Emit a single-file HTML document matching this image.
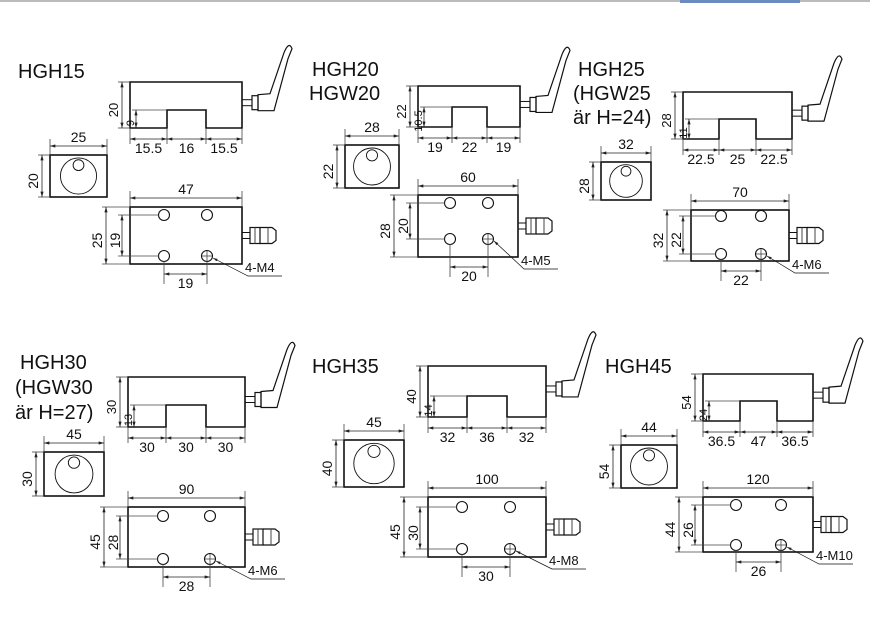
<!DOCTYPE html>
<html><head><meta charset="utf-8"><style>
body{margin:0;background:#fff;}
svg{display:block;}
text{font-family:"Liberation Sans",sans-serif;fill:#111;}
</style></head><body>
<svg id="s" width="870" height="632" viewBox="0 0 870 632" xmlns="http://www.w3.org/2000/svg">
<defs>
<marker id="a" viewBox="0 0 10 6" refX="10" refY="3" markerWidth="7" markerHeight="4" orient="auto-start-reverse"><path d="M0,0L10,3L0,6z" fill="#222"/></marker>
</defs>
<rect x="0" y="0" width="870" height="2" fill="#bbb"/>
<rect x="680" y="0" width="120" height="3" fill="#6a8ac0"/>
<g id="g" stroke="#111" fill="none"></g>
</svg>
<script>
var g=document.getElementById('g'),NS="http://www.w3.org/2000/svg";
function el(n,a,t){var e=document.createElementNS(NS,n);for(var k in a)e.setAttribute(k,a[k]);if(t!=null)e.textContent=t;g.appendChild(e);return e;}
function L(x1,y1,x2,y2,w,c){el('line',{x1:x1,y1:y1,x2:x2,y2:y2,'stroke-width':w||0.8,stroke:c||'#444'});}
function A(x1,y1,x2,y2){el('line',{x1:x1,y1:y1,x2:x2,y2:y2,'stroke-width':0.8,stroke:'#222','marker-start':'url(#a)','marker-end':'url(#a)'});}
function T(x,y,s,fs,rot,anchor){var a={x:x,y:y,'font-size':fs||13,stroke:'none','text-anchor':anchor||'middle'};if(rot)a.transform='rotate(-90 '+x+' '+y+')';el('text',a,s);}
function R(x1,y1,x2,y2){el('rect',{x:x1,y:y1,width:x2-x1,height:y2-y1,'stroke-width':1.6,stroke:'#111',fill:'none'});}
function panel(p){
 p.t.forEach(function(t){T(t[0],t[1],t[2],20,0,'start');});
 var F=p.F,x1=F[0],y1=F[1],x2=F[2],y2=F[3],sx1=p.sl[0],sx2=p.sl[1],sy=p.sl[2];
 el('path',{d:'M'+x1+','+y2+'V'+y1+'H'+x2+'V'+y2+'H'+sx2+'V'+sy+'H'+sx1+'V'+y2+'Z','stroke-width':1.6,stroke:'#111'});
 L(x1-12,y1,x1,y1);L(x1-12,y2,x1,y2);A(x1-8,y1,x1-8,y2);T(x1-12,(y1+y2)/2+5,p.fh,13,1);
 L(x1+2,sy,sx1,sy);A(x1+6,sy,x1+6,y2);T(x1+4,(sy+y2)/2+4,p.sh,11,1);
 var dy=y2+11;[x1,sx1,sx2,x2].forEach(function(x){L(x,y2,x,y2+16);});
 A(x1,dy,sx1,dy);A(sx1,dy,sx2,dy);A(sx2,dy,x2,dy);
 T((x1+sx1)/2,dy+14,p.fd[0],14);T((sx1+sx2)/2,dy+14,p.fd[1],14);T((sx2+x2)/2,dy+14,p.fd[0],14);
 var hy=y1+(y2-y1)*0.45;
 el('rect',{x:x2,y:hy-3,width:10,height:6,'stroke-width':1});
 el('rect',{x:x2+10,y:hy-7,width:6,height:14,'stroke-width':1.2});
 el('path',{d:'M'+(x2+16)+','+(hy-8)+'L'+(x2+28)+','+(hy-9)+'L'+(x2+42)+','+(hy-50)+'Q'+(x2+47)+','+(hy-62)+' '+(x2+50)+','+(hy-54)+'L'+(x2+46)+','+(hy-44)+'L'+(x2+32)+','+(hy+8)+'L'+(x2+16)+','+(hy+8)+'Z','stroke-width':1.2});
 var S=p.S;R(S[0],S[1],S[2],S[3]);
 var cx=(S[0]+S[2])/2,cy=(S[1]+S[3])/2,r=(S[3]-S[1])*0.43;
 el('circle',{cx:cx,cy:cy,r:r,'stroke-width':0.9});
 el('circle',{cx:cx,cy:cy-r*0.6,r:r*0.3,'stroke-width':0.9});
 L(S[0],S[1]-16,S[0],S[1]);L(S[2],S[1]-16,S[2],S[1]);A(S[0],S[1]-9,S[2],S[1]-9);T(cx,S[1]-13,p.sw,14);
 L(S[0]-12,S[1],S[0],S[1]);L(S[0]-12,S[3],S[0],S[3]);A(S[0]-8,S[1],S[0]-8,S[3]);T(S[0]-12,cy+5,p.shh,14,1);
 var P=p.T,h=p.h;R(P[0],P[1],P[2],P[3]);
 [[h[0],h[2]],[h[1],h[2]],[h[0],h[3]],[h[1],h[3]]].forEach(function(c){el('circle',{cx:c[0],cy:c[1],r:5.5,'stroke-width':1.1});});
 L(h[1]-5,h[3],h[1]+5,h[3],0.8);L(h[1],h[3]-5,h[1],h[3]+5,0.8);
 L(P[0],P[1]-16,P[0],P[1]);L(P[2],P[1]-16,P[2],P[1]);A(P[0],P[1]-9,P[2],P[1]-9);T((P[0]+P[2])/2,P[1]-13,p.tw,14);
 L(P[0]-28,P[1],P[0],P[1]);L(P[0]-28,P[3],P[0],P[3]);A(P[0]-24,P[1],P[0]-24,P[3]);T(P[0]-28,(P[1]+P[3])/2+5,p.th,14,1);
 L(P[0]-12,h[2],h[0]-5,h[2]);L(P[0]-12,h[3],h[0]-5,h[3]);A(P[0]-8,h[2],P[0]-8,h[3]);T(P[0]-10,(h[2]+h[3])/2+5,p.hv,14,1);
 L(h[0],h[3]+5,h[0],P[3]+20);L(h[1],h[3]+5,h[1],P[3]+20);A(h[0],P[3]+10,h[1],P[3]+10);T((h[0]+h[1])/2,P[3]+24,p.hb,14);
 el('path',{d:'M'+(h[1]+6)+','+(h[3]+2)+'L'+(P[2]+6)+','+(P[3]+12)+'H'+(P[2]+40),'stroke-width':0.7,'marker-start':'url(#a)'});
 T(P[2]+3,P[3]+8,p.m,13,0,'start');
 var cy2=(P[1]+P[3])/2+(p.cyo||0);
 el('rect',{x:P[2],y:cy2-3,width:8,height:6,'stroke-width':1});
 el('rect',{x:P[2]+8,y:cy2-8,width:10,height:16,'stroke-width':1.2});
 el('path',{d:'M'+(P[2]+18)+','+(cy2-8)+'H'+(P[2]+30)+'L'+(P[2]+34)+','+(cy2-5)+'V'+(cy2+5)+'L'+(P[2]+30)+','+(cy2+8)+'H'+(P[2]+18),'stroke-width':1.2});
 L(P[2]+13,cy2-8,P[2]+13,cy2+8,1);L(P[2]+26,cy2-8,P[2]+26,cy2+8,1);
}
var D=[
{t:[[18,78,'HGH15']],F:[130,82,242,128],sl:[167,206,110],fh:'20',sh:'9',fd:['15.5','16'],S:[50,155,107,197],sw:'25',shh:'20',T:[130,207,242,264],h:[164,207,215,256],tw:'47',th:'25',hv:'19',hb:'19',m:'4-M4'},
{t:[[312,76,'HGH20'],[309,100,'HGW20']],F:[418,86,520,127],sl:[452,487,107],fh:'22',sh:'10.5',fd:['19','22'],S:[345,145,399,188],sw:'28',shh:'22',T:[418,195,518,257],h:[450,488,203,239],tw:'60',th:'28',hv:'20',hb:'20',m:'4-M5'},
{t:[[578,76,'HGH25'],[573,100,'(HGW25'],[573,124,'är H=24)']],F:[683,92,792,139],sl:[719,756,119],fh:'28',sh:'11',fd:['22.5','25'],S:[601,162,651,200],sw:'32',shh:'28',T:[691,210,789,261],h:[721,761,216,254],tw:'70',th:'32',hv:'22',hb:'22',m:'4-M6'},
{t:[[20,369,'HGH30'],[15,394,'(HGW30'],[15,419,'är H=27)']],F:[128,377,245,427],sl:[166,206,405],fh:'30',sh:'13',fd:['30','30'],S:[44,452,104,496],sw:'45',shh:'30',T:[128,507,245,567],h:[163,210,516,559],tw:'90',th:'45',hv:'28',hb:'28',m:'4-M6'},
{t:[[312,373,'HGH35']],F:[428,366,546,417],sl:[467,507,396],fh:'40',sh:'14',fd:['32','36'],S:[344,440,404,487],sw:'45',shh:'40',T:[428,497,546,557],h:[462,510,507,549],tw:'100',th:'45',hv:'30',hb:'30',m:'4-M8'},
{t:[[605,373,'HGH45']],F:[703,374,813,421],sl:[740,777,401],fh:'54',sh:'24',fd:['36.5','47'],S:[621,445,677,488],sw:'44',shh:'54',T:[703,497,813,552],h:[736,781,505,545],tw:'120',th:'44',hv:'26',hb:'26',m:'4-M10'}
];
D.forEach(panel);
</script>
</body></html>
